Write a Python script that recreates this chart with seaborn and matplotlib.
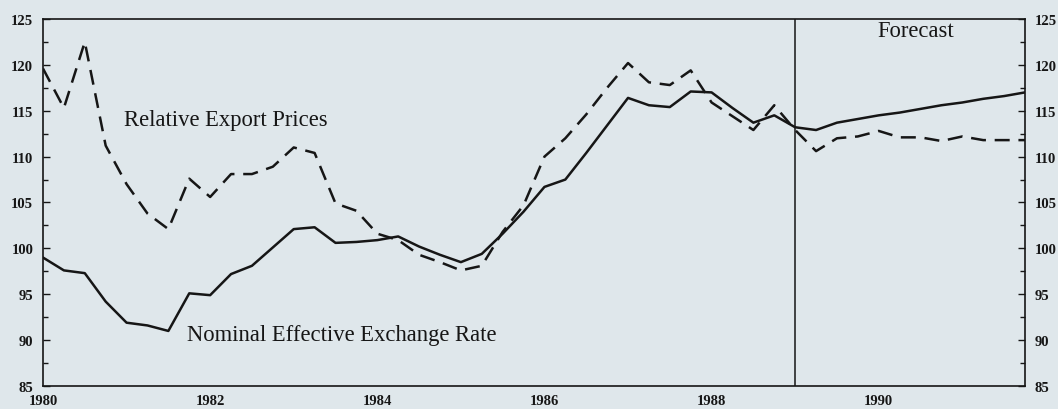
"""Relative export prices vs nominal effective exchange rate, 1980-1991"""

import matplotlib
matplotlib.use("Agg")
import matplotlib.pyplot as plt
from matplotlib.ticker import MultipleLocator, FixedLocator
import seaborn as sns
import numpy as np
import pandas as pd

# quarterly observations, 1980Q1 .. 1991Q4
start_year = 1980
n_quarters = 48
forecast_start = 1989

neer = [99.0, 97.6, 97.3, 94.2, 91.9, 91.6, 91.0, 95.1,
        94.9, 97.2, 98.1, 100.1, 102.1, 102.3, 100.6, 100.7,
        100.9, 101.3, 100.2, 99.3, 98.5, 99.4, 101.6, 104.0,
        106.7, 107.5, 110.4, 113.4, 116.4, 115.6, 115.4, 117.1,
        117.0, 115.3, 113.7, 114.5, 113.2, 112.9, 113.7, 114.1,
        114.5, 114.8, 115.2, 115.6, 115.9, 116.3, 116.6, 117.0]

rel_export_prices = [119.6, 115.3, 122.5, 111.2, 107.0, 103.8, 102.1, 107.6,
                     105.6, 108.1, 108.1, 108.9, 111.0, 110.4, 104.9, 104.1,
                     101.6, 100.9, 99.3, 98.5, 97.6, 98.1, 101.8, 104.7,
                     110.0, 112.0, 114.6, 117.5, 120.2, 118.1, 117.8, 119.4,
                     115.9, 114.4, 112.9, 115.6, 112.9, 110.6, 112.0, 112.2,
                     112.8, 112.1, 112.1, 111.7, 112.2, 111.8, 111.8, 111.8]

year_ticks = [1980, 1982, 1984, 1986, 1988, 1990]
value_ticks = [85, 90, 95, 100, 105, 110, 115, 120, 125]

bg = "#dfe7eb"
ink = "#161616"

sns.set_style("white")
plt.rcParams["font.family"] = ["Liberation Serif", "DejaVu Serif"]

df = pd.DataFrame({
    "date": start_year + np.arange(n_quarters) * 0.25,
    "neer": neer,
    "rel": rel_export_prices,
})

fig = plt.figure(figsize=(10.58, 4.10), dpi=100, facecolor=bg)
ax = fig.add_axes([43 / 1058, 1 - 387 / 410, (1025 - 43) / 1058, (387 - 20) / 410])
ax.set_facecolor(bg)

sns.lineplot(data=df, x="date", y="neer", ax=ax, color=ink, lw=1.8)
sns.lineplot(data=df, x="date", y="rel", ax=ax, color=ink, lw=1.8,
             linestyle=(0, (6, 3.5)))
ax.axvline(forecast_start, color=ink, lw=1.1)

ax.set_xlim(1980, 1991.75)
ax.set_ylim(85, 125)
ax.set_xlabel("")
ax.set_ylabel("")

ax.xaxis.set_major_locator(FixedLocator(year_ticks))
ax.xaxis.set_minor_locator(MultipleLocator(0.25))
ax.yaxis.set_major_locator(FixedLocator(value_ticks))
ax.yaxis.set_minor_locator(MultipleLocator(2.5))

ax.tick_params(axis="x", which="major", direction="in", length=6.5, width=1.0,
               colors=ink, pad=6, labelsize=10.5)
ax.tick_params(axis="x", which="minor", direction="in", length=3.5, width=1.0,
               colors=ink)
ax.tick_params(axis="y", which="both", direction="in", left=True, right=True,
               labelleft=True, labelright=True, width=1.0, colors=ink,
               labelsize=10.5)
ax.tick_params(axis="y", which="major", length=5, pad=7)
ax.tick_params(axis="y", which="minor", length=3.5)
for lab in ax.get_xticklabels() + ax.get_yticklabels():
    lab.set_fontweight("bold")
for lab in ax.yaxis.get_ticklabels(which="major"):
    lab.set_fontweight("bold")
ax.set_xticklabels([str(y) for y in year_ticks], fontweight="bold")

for side in ax.spines.values():
    side.set_color(ink)
    side.set_linewidth(1.2)

ax.text(1980.97, 114.0, "Relative Export Prices", fontsize=16.3, color=ink,
        ha="left", va="center")
ax.text(1981.72, 90.65, "Nominal Effective Exchange Rate", fontsize=16.3,
        color=ink, ha="left", va="center")
ax.text(1990.44, 123.8, "Forecast", fontsize=16.3, color=ink,
        ha="center", va="center")

plt.savefig("out.png", dpi=100, facecolor=bg)
plt.close()
